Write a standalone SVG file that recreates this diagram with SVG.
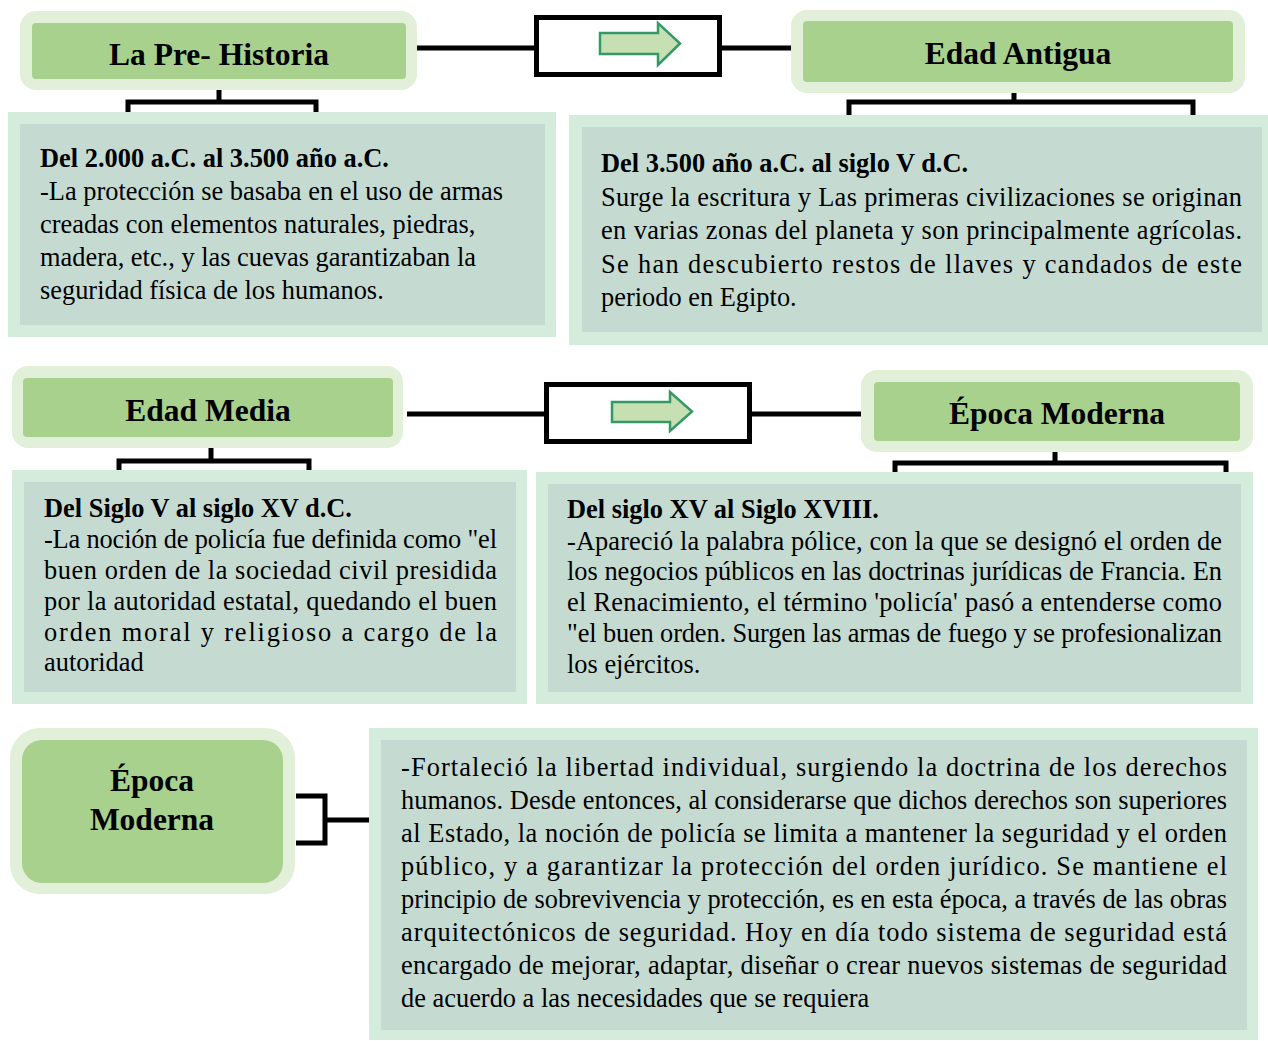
<svg xmlns="http://www.w3.org/2000/svg" width="1268" height="1041" viewBox="0 0 1268 1041">
<style>
.no{fill:#e2efd9}
.ni{fill:#a9d18e}
.bo{fill:#d4ecdc}
.bi{fill:#c5dbd2}
.ln{stroke:#000;stroke-width:5;fill:none}
.ab{stroke:#000;stroke-width:5;fill:#fff}
.ar{fill:#c6e0b4;stroke:#339966;stroke-width:2.5}
.ht{font-family:"Liberation Serif","Times New Roman",serif;font-weight:bold;font-size:31.5px;fill:#000;text-anchor:middle}
.tt{font-family:"Liberation Serif","Times New Roman",serif;font-size:26.4px;fill:#000}
.tb{font-weight:bold}
</style>
<rect width="1268" height="1041" fill="#fff"/>
<g id="connectors">
<path class="ln" d="M417 48H537M720 48H791"/>
<path class="ln" d="M219 90V102M128 112V102H316V112"/>
<path class="ln" d="M1014 93V102M849 115V102H1193V115"/>
<path class="ln" d="M407 414H546M750 414H861"/>
<path class="ln" d="M211 448V461M119 470V461H309V470"/>
<path class="ln" d="M1055 452V463M895 472V463H1226V472"/>
<path class="ln" d="M296 796H325V843H296M325 820H370"/>
</g>
<g id="arrow1">
<rect class="ab" x="536.5" y="17.5" width="183" height="57"/>
<path class="ar" d="M600 33H658V23L680 43.5L658 65V54H600Z"/>
</g>
<g id="arrow2">
<rect class="ab" x="546.5" y="384.5" width="203" height="57"/>
<path class="ar" d="M612 402H670V392L692 411.5L670 431V422H612Z"/>
</g>
<g id="n-prehistoria">
<rect class="no" x="20" y="11" width="397" height="79" rx="16"/>
<rect class="ni" x="32" y="23" width="374" height="56" rx="4"/>
<text class="ht" x="219" y="65">La Pre- Historia</text>
</g>
<g id="n-antigua">
<rect class="no" x="791" y="10" width="454" height="83" rx="16"/>
<rect class="ni" x="803" y="21" width="430" height="61" rx="4"/>
<text class="ht" x="1018" y="64">Edad Antigua</text>
</g>
<g id="n-media">
<rect class="no" x="12" y="366" width="391" height="82" rx="16"/>
<rect class="ni" x="23" y="378" width="370" height="59" rx="4"/>
<text class="ht" x="208" y="421">Edad Media</text>
</g>
<g id="n-moderna">
<rect class="no" x="861" y="370" width="392" height="82" rx="16"/>
<rect class="ni" x="874" y="382" width="366" height="59" rx="4"/>
<text class="ht" x="1057" y="424">Época Moderna</text>
</g>
<g id="n-moderna2">
<rect class="no" x="10" y="728" width="285" height="166" rx="30"/>
<rect class="ni" x="22" y="740" width="261" height="143" rx="20"/>
<text class="ht" x="152" y="791">Época</text>
<text class="ht" x="152" y="830">Moderna</text>
</g>
<g id="t-prehistoria">
<rect class="bo" x="8" y="112" width="548" height="225"/>
<rect class="bi" x="20" y="124" width="525" height="201"/>
<text class="tt tb" x="40" y="167">Del 2.000 a.C. al 3.500 año a.C.</text>
<text class="tt" x="40" y="200">-La protección se basaba en el uso de armas</text>
<text class="tt" x="40" y="233">creadas con elementos naturales, piedras,</text>
<text class="tt" x="40" y="266">madera, etc., y las cuevas garantizaban la</text>
<text class="tt" x="40" y="299">seguridad física de los humanos.</text>
</g>
<g id="t-antigua">
<rect class="bo" x="569" y="115" width="699" height="230"/>
<rect class="bi" x="582" y="127" width="680" height="205"/>
<text class="tt tb" x="601" y="172">Del 3.500 año a.C. al siglo V d.C.</text>
<text class="tt" x="601" y="206" textLength="641" lengthAdjust="spacing">Surge la escritura y Las primeras civilizaciones se originan</text>
<text class="tt" x="601" y="239" textLength="641" lengthAdjust="spacing">en varias zonas del planeta y son principalmente agrícolas.</text>
<text class="tt" x="601" y="273" textLength="641" lengthAdjust="spacing">Se han descubierto restos de llaves y candados de este</text>
<text class="tt" x="601" y="306">periodo en Egipto.</text>
</g>
<g id="t-media">
<rect class="bo" x="12" y="470" width="515" height="234"/>
<rect class="bi" x="24" y="482" width="492" height="210"/>
<text class="tt tb" x="44" y="517">Del Siglo V al siglo XV d.C.</text>
<text class="tt" x="44" y="548" textLength="453" lengthAdjust="spacing">-La noción de policía fue definida como "el</text>
<text class="tt" x="44" y="579" textLength="453" lengthAdjust="spacing">buen orden de la sociedad civil presidida</text>
<text class="tt" x="44" y="610" textLength="453" lengthAdjust="spacing">por la autoridad estatal, quedando el buen</text>
<text class="tt" x="44" y="641" textLength="453" lengthAdjust="spacing">orden moral y religioso a cargo de la</text>
<text class="tt" x="44" y="671">autoridad</text>
</g>
<g id="t-moderna">
<rect class="bo" x="536" y="472" width="717" height="232"/>
<rect class="bi" x="548" y="484" width="693" height="208"/>
<text class="tt tb" x="567" y="518">Del siglo XV al Siglo XVIII.</text>
<text class="tt" x="567" y="550" textLength="655" lengthAdjust="spacing">-Apareció la palabra pólice, con la que se designó el orden de</text>
<text class="tt" x="567" y="580" textLength="655" lengthAdjust="spacing">los negocios públicos en las doctrinas jurídicas de Francia. En</text>
<text class="tt" x="567" y="611" textLength="655" lengthAdjust="spacing">el Renacimiento, el término 'policía' pasó a entenderse como</text>
<text class="tt" x="567" y="642" textLength="655" lengthAdjust="spacing">"el buen orden. Surgen las armas de fuego y se profesionalizan</text>
<text class="tt" x="567" y="673">los ejércitos.</text>
</g>
<g id="t-moderna2">
<rect class="bo" x="369" y="728" width="889" height="312"/>
<rect class="bi" x="381" y="740" width="866" height="290"/>
<text class="tt" x="401" y="776" textLength="826" lengthAdjust="spacing">-Fortaleció la libertad individual, surgiendo la doctrina de los derechos</text>
<text class="tt" x="401" y="809" textLength="826" lengthAdjust="spacing">humanos. Desde entonces, al considerarse que dichos derechos son superiores</text>
<text class="tt" x="401" y="842" textLength="826" lengthAdjust="spacing">al Estado, la noción de policía se limita a mantener la seguridad y el orden</text>
<text class="tt" x="401" y="875" textLength="826" lengthAdjust="spacing">público, y a garantizar la protección del orden jurídico. Se mantiene el</text>
<text class="tt" x="401" y="908" textLength="826" lengthAdjust="spacing">principio de sobrevivencia y protección, es en esta época, a través de las obras</text>
<text class="tt" x="401" y="941" textLength="826" lengthAdjust="spacing">arquitectónicos de seguridad. Hoy en día todo sistema de seguridad está</text>
<text class="tt" x="401" y="974" textLength="826" lengthAdjust="spacing">encargado de mejorar, adaptar, diseñar o crear nuevos sistemas de seguridad</text>
<text class="tt" x="401" y="1007">de acuerdo a las necesidades que se requiera</text>
</g>
</svg>
